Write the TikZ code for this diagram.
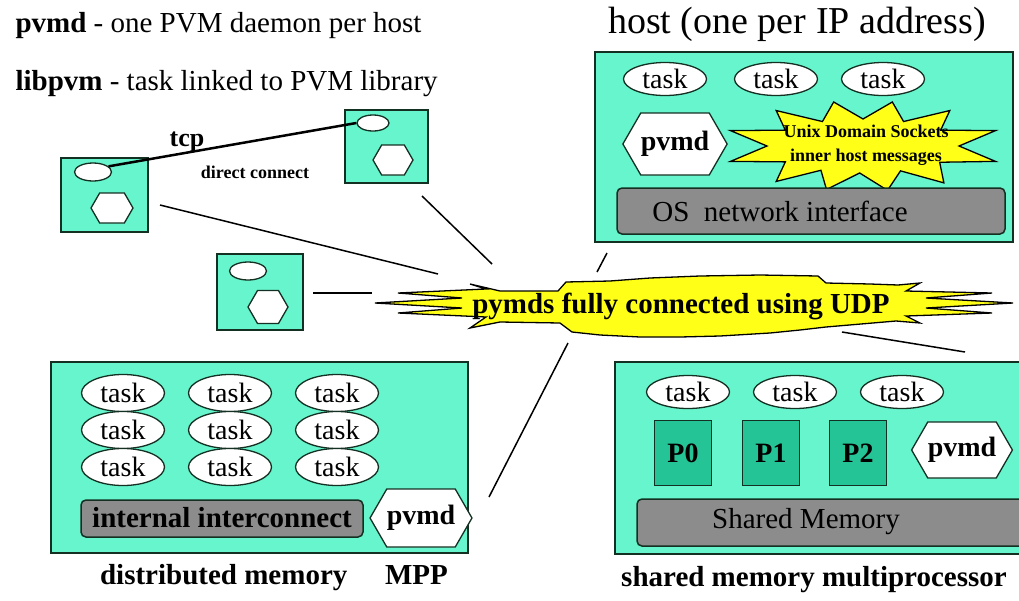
\documentclass[tikz,border=0pt]{standalone}
\usepackage{fontspec}
\setmainfont{Liberation Serif}
\usetikzlibrary{shapes.geometric,shapes.symbols}

\definecolor{hostgreen}{RGB}{102,245,204}
\definecolor{cpugreen}{RGB}{36,196,150}
\definecolor{busgray}{RGB}{140,140,140}
\definecolor{burstyellow}{RGB}{255,255,24}
\definecolor{boxline}{RGB}{20,48,34}

\tikzset{
  box/.style={draw=boxline, line width=1.5pt, fill=hostgreen},
  task/.style={ellipse, draw=boxline, line width=1.3pt, fill=white, inner sep=0pt,
    minimum width=83pt, minimum height=33pt, font=\fontsize{28}{30}\selectfont},
  dot/.style={ellipse, draw=boxline, line width=1.3pt, fill=white, inner sep=0pt},
  pvmd/.style={signal, signal to=east and west, signal pointer angle=120, draw=boxline,
    line width=1.3pt, fill=white, inner sep=0pt, font=\bfseries\fontsize{28}{30}\selectfont},
  bus/.style={draw=boxline, line width=1.5pt, fill=busgray, rounded corners=5pt},
  cpu/.style={draw=boxline, line width=1.3pt, fill=cpugreen, minimum width=57pt,
    minimum height=65pt, font=\bfseries\fontsize{28}{30}\selectfont},
  burst/.style={draw=black, line width=1.3pt, fill=burstyellow},
  link/.style={line width=1.5pt},
  caption/.style={font=\bfseries\fontsize{29}{32}\selectfont},
  legend/.style={anchor=base west, font=\fontsize{29}{32}\selectfont}
}

\begin{document}
\begin{tikzpicture}[x=1pt,y=-1pt]
\useasboundingbox (0,0) rectangle (1019,600);

% legend
\node[legend] (leg1) at (12,32) {\textbf{pvmd} - one PVM daemon per host};
\node[legend] (leg2) at (12,90) {\textbf{libpvm} - task linked to PVM library};

% three lone hosts
\draw[box] (61,158) rectangle (148,232);
\node[dot, minimum width=37pt, minimum height=18pt] (e1) at (93,172) {};
\node[pvmd, minimum width=42pt, minimum height=30pt] (h1) at (112,208) {};
\draw[box] (345,110) rectangle (428,183);
\node[dot, minimum width=32pt, minimum height=16pt] (e2) at (373,123) {};
\node[pvmd, minimum width=40pt, minimum height=30pt] (h2) at (393,160) {};
\draw[box] (217,254) rectangle (303,330);
\node[dot, minimum width=37pt, minimum height=18pt] (e3) at (248,271) {};
\node[pvmd, minimum width=40pt, minimum height=33pt] (h3) at (268,307) {};

% tcp between tasks
\draw[line width=2.5pt] (e1.20) -- (e2.west);
\node[font=\bfseries\fontsize{26}{28}\selectfont] (tcp) at (187,142) {tcp};
\node[font=\bfseries\fontsize{18}{20}\selectfont] (direct) at (255,172) {direct connect};

% host box
\node[font=\fontsize{38}{40}\selectfont, anchor=base] (hosttitle) at (797,33) {host (one per IP address)};
\draw[box] (595,52) rectangle (1013,242);
\node[task] (ht1) at (665,79) {task};
\node[task] (ht2) at (776,79) {task};
\node[task] (ht3) at (883,79) {task};
\node[pvmd, minimum width=95pt, minimum height=62pt] (hpvmd) at (675,144) {pvmd};
\draw[burst, shift={(863,146)}] (0:96 and 27)
  \foreach \o/\i in {20/37,55/67,80/92,105/116,128/144,160/180,200/216,232/245,258/270,282/295,308/324,340/360}
  { -- (\o:141 and 45) -- (\i:96 and 27) } -- cycle;
\node[font=\bfseries\fontsize{18}{24}\selectfont, align=center] (uds) at (866,145)
  {Unix Domain Sockets\\inner host messages};
\draw[bus] (617,188) rectangle (1005,234);
\node[font=\fontsize{29}{32}\selectfont] (osif) at (780,211) {OS\ \ network interface};

% central UDP burst
\draw[burst] plot coordinates {(375,303) (462,298) (398,293) (486,289) (470,284) (500,291)
  (558,291) (566,282) (610,281) (650,278) (700,276) (760,275) (818,276) (826,283) (870,284)
  (898,285) (920,283) (906,291) (992,293) (926,298) (1013,303) (926,308) (992,313) (906,316)
  (920,323) (896,321) (826,327) (800,330) (770,333) (720,336) (680,337) (640,337) (600,335)
  (572,332) (560,323) (500,322) (470,328) (486,317) (398,313) (462,308)} -- cycle;
\node[font=\bfseries\fontsize{29}{32}\selectfont] (udp) at (681,306) {pymds fully connected using UDP};

% MPP
\draw[box] (51,362) rectangle (468,553);
\foreach \c [count=\i] in {123,230,337}
  \foreach \r [count=\j] in {393,430,467}
    \node[task, minimum height=37pt] (mt\i\j) at (\c,\r) {task};
\draw[bus] (81,500) rectangle (363,537);
\node[font=\bfseries\fontsize{29}{32}\selectfont] (icon) at (222,518) {internal interconnect};
\node[pvmd, minimum width=93pt, minimum height=58pt] (mpvmd) at (421,518) {pvmd};
\node[caption] (mppcap) at (274,578) {distributed memory\hspace{1.3em}MPP};

% shared memory multiprocessor
\draw[box] (615,362) rectangle (1030,554);
\node[task] (st1) at (688,392) {task};
\node[task] (st2) at (795,392) {task};
\node[task] (st3) at (902,392) {task};
\node[cpu] (p0) at (683,453) {P0};
\node[cpu] (p1) at (771,453) {P1};
\node[cpu] (p2) at (858,453) {P2};
\node[pvmd, minimum width=87pt, minimum height=56pt] (spvmd) at (962,450) {pvmd};
\draw[bus] (637,499) rectangle (1030,546);
\node[font=\fontsize{29}{32}\selectfont] (shm) at (806,522) {Shared Memory};
\node[caption] (smpcap) at (814,580) {shared memory multiprocessor};

% links to the burst
\coordinate (a1) at (160,205); \coordinate (b1) at (438,274);
\coordinate (a2) at (422,196); \coordinate (b2) at (492,264);
\coordinate (a3) at (313,293); \coordinate (b3) at (372,293);
\coordinate (a4) at (607,253); \coordinate (b4) at (597,272);
\coordinate (a5) at (568,343); \coordinate (b5) at (489,497);
\coordinate (a6) at (842,332); \coordinate (b6) at (965,352);
\draw[link] (a1) -- (b1);
\draw[link] (a2) -- (b2);
\draw[link] (a3) -- (b3);
\draw[link] (a4) -- (b4);
\draw[link] (a5) -- (b5);
\draw[link] (a6) -- (b6);

\end{tikzpicture}
\end{document}
